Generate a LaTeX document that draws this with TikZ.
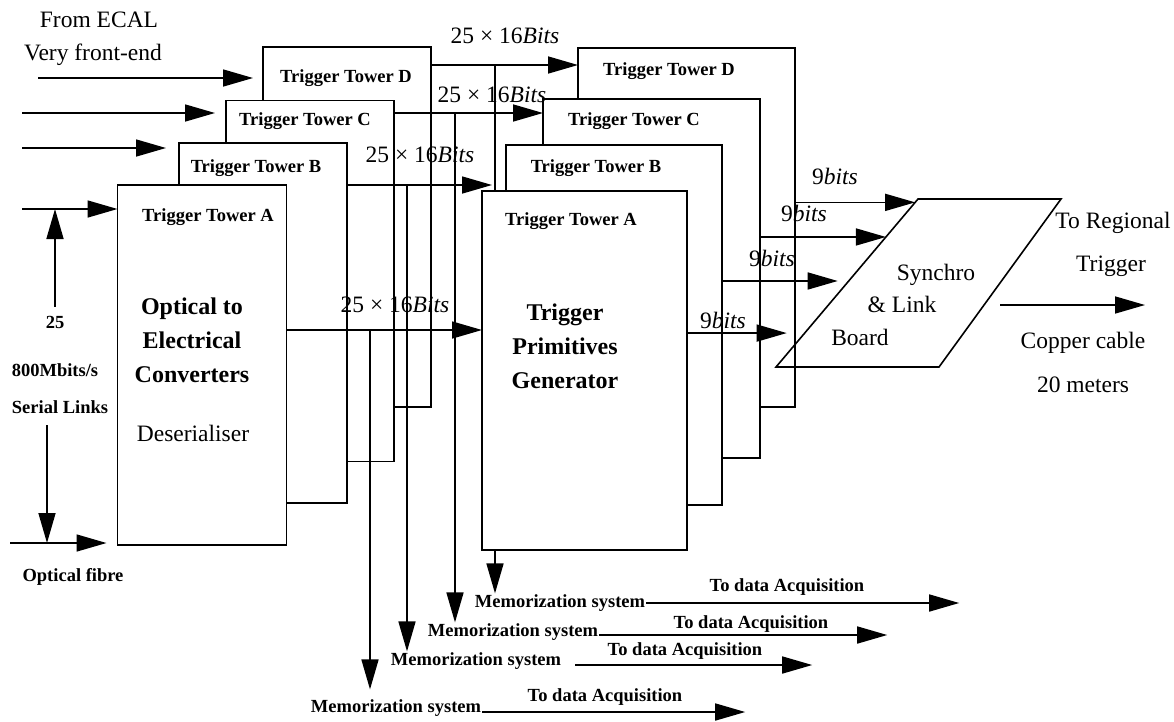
\documentclass[tikz,border=0pt]{standalone}
\usepackage{fontspec}
\setmainfont{Liberation Serif}
\usetikzlibrary{arrows.meta,calc}

\tikzset{
  tower/.style={draw, fill=white, line width=1.6pt, inner sep=0pt, outer sep=0pt},
  wire/.style={line width=1.6pt},
  arr/.style={line width=1.6pt, -{Triangle[length=30pt,width=17pt]}},
  lbl/.style={font=\fontsize{23.5}{28}\selectfont, inner sep=1pt},
  lblb/.style={font=\bfseries\fontsize{24}{34}\selectfont, inner sep=1pt, align=center},
  tag/.style={font=\bfseries\fontsize{18.5}{22}\selectfont, inner sep=1pt},
}

\begin{document}
\begin{tikzpicture}[x=1pt,y=-1pt]
    \useasboundingbox (0,0) rectangle (1174,721);

    % converter boards, back to front
    \node[tower, minimum width=168pt, minimum height=360pt] (lD) at (347,227) {};
    \node[tower, minimum width=168pt, minimum height=361pt] (lC) at (310,281) {};
    \node[tower, minimum width=168pt, minimum height=360pt] (lB) at (263,323) {};
    \node[tower, minimum width=169pt, minimum height=360pt] (lA) at (202,365) {};

    % primitive generator boards
    \node[tower, minimum width=217pt, minimum height=359pt] (rD) at (686.5,227.5) {};
    \node[tower, minimum width=217pt, minimum height=359pt] (rC) at (651.5,278.5) {};
    \node[tower, minimum width=216pt, minimum height=360pt] (rB) at (614,325) {};

    \node[tag] (m1) at (560,603) {Memorization system};
    \node[tag] (m2) at (513,632) {Memorization system};
    \node[tag] (m3) at (476,661) {Memorization system};
    \node[tag] (m4) at (396,708) {Memorization system};

    \coordinate (jD) at (495,65);
    \coordinate (jC) at (455,113);
    \coordinate (jB) at (407,185);
    \coordinate (jA) at (370,330);
    \draw[arr] (jD) -- (jD |- m1.north);

    \node[tower, minimum width=205pt, minimum height=359pt] (rA) at (584.5,370.5) {};

    \node[tag] (tlD) at (346,78) {Trigger Tower D};
    \node[tag] (tlC) at (305,121) {Trigger Tower C};
    \node[tag] (tlB) at (256,168) {Trigger Tower B};
    \node[tag] (tlA) at (208,217) {Trigger Tower A};
    \node[tag] (trD) at (669,71) {Trigger Tower D};
    \node[tag] (trC) at (634,121) {Trigger Tower C};
    \node[tag] (trB) at (596,168) {Trigger Tower B};
    \node[tag] (trA) at (571,221) {Trigger Tower A};

    \node[lblb] (conv) at (192,340) {Optical to\\Electrical\\Converters};
    \node[lbl] (deser) at (193,433) {Deserialiser};
    \node[lblb] (tpg) at (565,346) {Trigger\\Primitives\\Generator};

    % front-end inputs
    \node[lbl] (ecal) at (99,20) {From ECAL};
    \node[lbl] (vfe) at (93,55) {Very front-end};
    \coordinate (iD) at (38,78);
    \coordinate (iC) at (22,113);
    \coordinate (iB) at (22,148);
    \coordinate (iA) at (22,209);
    \draw[arr, shorten >=10pt] (iD) -- (iD -| lD.west);
    \draw[arr, shorten >=11pt] (iC) -- (iC -| lC.west);
    \draw[arr, shorten >=13pt] (iB) -- (iB -| lB.west);
    \draw[arr] (iA) -- (iA -| lA.west);

    \node[tag] (n25) at (55,322) {25};
    \node[tag] (rate) at (55,370) {800Mbits/s};
    \node[tag] (serial) at (60,407) {Serial Links};
    \draw[arr, shorten <=8pt] (n25.north) -- (n25.north |- iA);
    \coordinate (dn) at (47,425);
    \coordinate (fb) at (10,543);
    \draw[arr] (dn) -- (dn |- fb);
    \draw[arr, shorten >=11pt] (fb) -- (fb -| lA.west);
    \node[tag] (fibre) at (73,577) {Optical fibre};

    % 25x16 bit buses
    \node[lbl] (bD) at (505,36) {25 × 16\textit{Bits}};
    \node[lbl] (bC) at (492,95) {25 × 16\textit{Bits}};
    \node[lbl] (bB) at (420,155) {25 × 16\textit{Bits}};
    \node[lbl] (bA) at (395,305) {25 × 16\textit{Bits}};
    \draw[arr] (lD.east |- jD) -- (rD.west |- jD);
    \draw[arr] (lC.east |- jC) -- (rC.west |- jC);
    \draw[arr, shorten >=14pt] (lB.east |- jB) -- (rB.west |- jB);
    \draw[arr] (lA.east |- jA) -- (rA.west |- jA);
    \draw[arr] (jC) -- (jC |- m2.north);
    \draw[arr] (jB) -- (jB |- m3.north);
    \draw[arr] (jA) -- ([yshift=9pt]jA |- m4.north);

    % memorization outputs
    \node[tag] (d1) at (787,587) {To data Acquisition};
    \node[tag] (d2) at (751,624) {To data Acquisition};
    \node[tag] (d3) at (685,651) {To data Acquisition};
    \node[tag] (d4) at (605,697) {To data Acquisition};
    \draw[arr] (m1.east) -- ++(313,0);
    \draw[arr] ([yshift=-3pt]m2.east) -- ++(288,0);
    \draw[arr] ([xshift=13pt,yshift=-4pt]m3.east) -- ++(237,0);
    \draw[arr] ([yshift=-4pt]m4.east) -- ++(263,0);

    % synchro & link board
    \coordinate (sTL) at (918,199);
    \coordinate (sTR) at (1061,199);
    \coordinate (sBR) at (939,367);
    \coordinate (sBL) at (776,367);
    \draw[wire] (sTL) -- (sTR) -- (sBR) -- (sBL) -- cycle;
    \node[lbl] (syn) at (936,275) {Synchro};
    \node[lbl] (link) at (902,304) {\& Link};
    \node[lbl] (board) at (860,337) {Board};

    \coordinate (s1) at ($(sTL)!0.02!(sBL)$);
    \coordinate (s2) at ($(sTL)!0.226!(sBL)$);
    \coordinate (s3) at ($(sTL)!0.488!(sBL)$);
    \coordinate (s4) at ($(sTL)!0.798!(sBL)$);
    \draw[arr] (rD.east |- s1) -- (s1);
    \draw[arr] (rC.east |- s2) -- (s2);
    \draw[arr, shorten >=11pt] (rB.east |- s3) -- (s3);
    \draw[arr, shorten >=18pt] (rA.east |- s4) -- (s4);
    \node[lbl] (k1) at (835,176) {9\textit{bits}};
    \node[lbl] (k2) at (804,213) {9\textit{bits}};
    \node[lbl] (k3) at (772,258) {9\textit{bits}};
    \node[lbl] (k4) at (723,320) {9\textit{bits}};

    % regional trigger link
    \node[lbl] (reg1) at (1113,223) {To Regional};
    \node[lbl] (reg2) at (1111,266) {Trigger};
    \coordinate (out) at (1000,305);
    \draw[arr] (out) -- ++(145,0);
    \node[lbl] (cu1) at (1083,343) {Copper cable};
    \node[lbl] (cu2) at (1083,385) {20 meters};

\end{tikzpicture}
\end{document}
